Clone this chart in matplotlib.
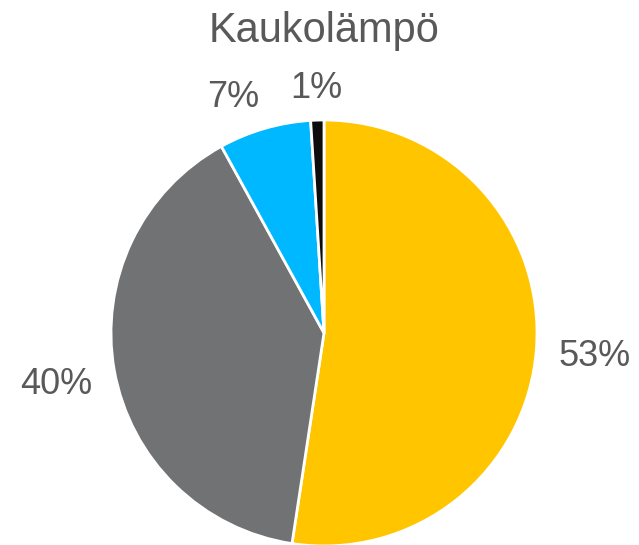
import matplotlib.pyplot as plt
import numpy as np

plt.rcParams['font.family'] = ['Liberation Sans', 'DejaVu Sans']

# Kaukolampo: osuudet (%), myotapaivaan ylhaalta alkaen
title = "Kaukolämpö"
shares = [52.4, 39.6, 7.0, 1.0]
labels = ["53%", "40%", "7%", "1%"]
colors = ["#FFC600", "#717274", "#00B8FF", "#0D0D0D"]
text_color = "#595959"

fig = plt.figure(figsize=(6.39, 5.45), dpi=100)
ax = fig.add_axes([0, 0, 1, 1])

wedges, _ = ax.pie(shares, colors=colors, startangle=90, counterclock=False,
                   radius=1, wedgeprops={'edgecolor': 'white', 'linewidth': 2})

# pie radius = 213 px, center at (324, 333) from top-left
ax.set_xlim(-324 / 213, 315 / 213)
ax.set_ylim(-212 / 213, 333 / 213)
ax.set_aspect('equal')
ax.axis('off')

# labels outside the pie, box edge about 0.1 r from the rim
fig.canvas.draw()
renderer = fig.canvas.get_renderer()
fs = 26
px_per_unit = 213
cap_h = 0.716 * fs * fig.dpi / 72 / px_per_unit
min_gap = 30 / px_per_unit


def place(ang_deg, tw):
    a = np.deg2rad(ang_deg)
    c, s = np.cos(a), np.sin(a)
    d = 1.1 + tw / 2 * abs(c) + cap_h / 2 * abs(s)
    return d * c, d * s


texts, widths, angles = [], [], []
for w, lab in zip(wedges, labels):
    t = ax.text(0, 0, lab, fontsize=fs, color=text_color, ha='center', va='baseline')
    texts.append(t)
    widths.append(t.get_window_extent(renderer).width / px_per_unit)
    angles.append((w.theta1 + w.theta2) / 2)

# push small neighbouring labels apart (last label stays put)
for i in range(len(texts) - 2, -1, -1):
    j = i + 1
    for _ in range(60):
        xi, yi = place(angles[i], widths[i])
        xj, yj = place(angles[j], widths[j])
        if abs(yi - yj) > cap_h or abs(xi - xj) - (widths[i] + widths[j]) / 2 >= min_gap:
            break
        angles[i] += 0.5

for t, tw, a in zip(texts, widths, angles):
    x, y = place(a, tw)
    t.set_position((x, y - cap_h / 2))

fig.text(324 / 639, 1 - 42 / 545, title, ha='center', va='baseline',
         fontsize=30, color=text_color)

fig.savefig("out.png", dpi=100)
